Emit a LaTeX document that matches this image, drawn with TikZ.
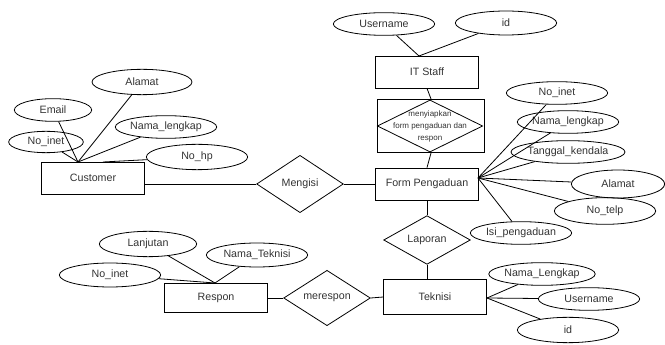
\documentclass[tikz,border=0pt]{standalone}
\usepackage{fontspec}
\setmainfont{Liberation Sans}
\usetikzlibrary{shapes.geometric}
\begin{document}
\begin{tikzpicture}[x=0.75pt,y=-0.75pt,line width=0.6pt,
    every node/.style={font=\fontsize{8}{9.6}\selectfont,text=black!80,inner sep=0pt},
    entity/.style={draw,rectangle,minimum width=77pt,minimum height=24pt},
    attr/.style={draw,ellipse,minimum width=76pt,minimum height=17pt},
    rel/.style={draw,diamond,minimum width=65pt,minimum height=35pt}]
    \useasboundingbox (0,0) rectangle (665,345);
    \draw
    (93,178) node[entity] (customer) {Customer}
    (427,184) node[entity] (form) {Form Pengaduan}
    (427,72) node[entity] (itstaff) {IT Staff}
    (435,297) node[entity,minimum height=26pt] (teknisi) {Teknisi}
    (216,298) node[entity,minimum height=22pt] (respon) {Respon}
    (431,126) node[draw,minimum width=80pt,minimum height=40pt] (boxsiap) {}
    (300,184) node[rel,minimum height=43pt] (mengisi) {Mengisi}
    (427,240) node[rel] (laporan) {Laporan}
    (327,298) node[rel] (merespon) {merespon}
    (430,126) node[rel,minimum width=79pt,minimum height=39pt] (siap) {}
    (430,126) node[font=\fontsize{6}{9}\selectfont,align=center] (siaptxt) {menyiapkan\\form pengaduan dan\\respon}
    (53,110) node[attr,minimum width=58pt] (email) {Email}
    (142,82) node[attr,minimum width=75pt,minimum height=19pt] (alamatc) {Alamat}
    (46,142) node[attr,minimum width=56pt,minimum height=16pt] (noinetc) {No\_inet}
    (166,127) node[attr] (namac) {Nama\_lengkap}
    (197,157) node[attr,minimum height=19pt] (nohp) {No\_hp}
    (384,24) node[attr] (userit) {Username}
    (506,23) node[attr,minimum height=18pt] (idit) {id}
    (557,93) node[attr] (noinetf) {No\_inet}
    (568,122) node[attr] (namaf) {Nama\_lengkap}
    (568,152) node[attr] (tanggal) {Tanggal\_kendala}
    (618,184) node[attr,minimum width=70pt,minimum height=21pt] (alamatf) {Alamat}
    (605,211) node[attr,minimum height=20pt] (notelp) {No\_telp}
    (521,233) node[attr] (isi) {Isi\_pengaduan}
    (542,274) node[attr] (namat) {Nama\_Lengkap}
    (589,299) node[attr] (usert) {Username}
    (568,330) node[attr,minimum height=19pt] (idt) {id}
    (148,244) node[attr,minimum width=73pt,minimum height=19pt] (lanjut) {Lanjutan}
    (110,275) node[attr,minimum height=18pt] (noinetr) {No\_inet}
    (257,255) node[attr,minimum height=18pt] (namatek) {Nama\_Teknisi}
    ;
    \coordinate (cu1) at (78,162);
    \coordinate (cu2) at (103,162);
    \coordinate (it1) at (419,56);
    \coordinate (fo1) at (478,178);
    \coordinate (re1) at (215,283);
    \coordinate (te1) at (487,298);
    \draw (customer.east |- mengisi) -- (mengisi.west);
    \draw (mengisi.east) -- (form.west |- mengisi);
    \draw (itstaff.south) -- (boxsiap.north);
    \draw (boxsiap.south) -- (form.north);
    \draw (form.south) -- (laporan.north);
    \draw (laporan.south) -- (laporan.south |- teknisi.north);
    \draw (respon.east) -- (merespon.west);
    \draw (merespon.east) -- (teknisi.west);
    \draw (noinetc) -- (cu1);
    \draw (email) -- (cu1);
    \draw (alamatc) -- (cu1);
    \draw (namac) -- (cu1);
    \draw (nohp) -- (cu2);
    \draw (userit) -- (it1);
    \draw (idit) -- (it1);
    \draw (noinetf) -- (fo1);
    \draw (namaf) -- (fo1);
    \draw (tanggal) -- (fo1);
    \draw (alamatf) -- (fo1);
    \draw (notelp) -- (fo1);
    \draw (isi) -- (fo1);
    \draw (lanjut) -- (re1);
    \draw (noinetr) -- (re1);
    \draw (namatek) -- (re1);
    \draw (namat) -- (te1);
    \draw (usert) -- (te1);
    \draw (idt) -- (te1);
\end{tikzpicture}
\end{document}
